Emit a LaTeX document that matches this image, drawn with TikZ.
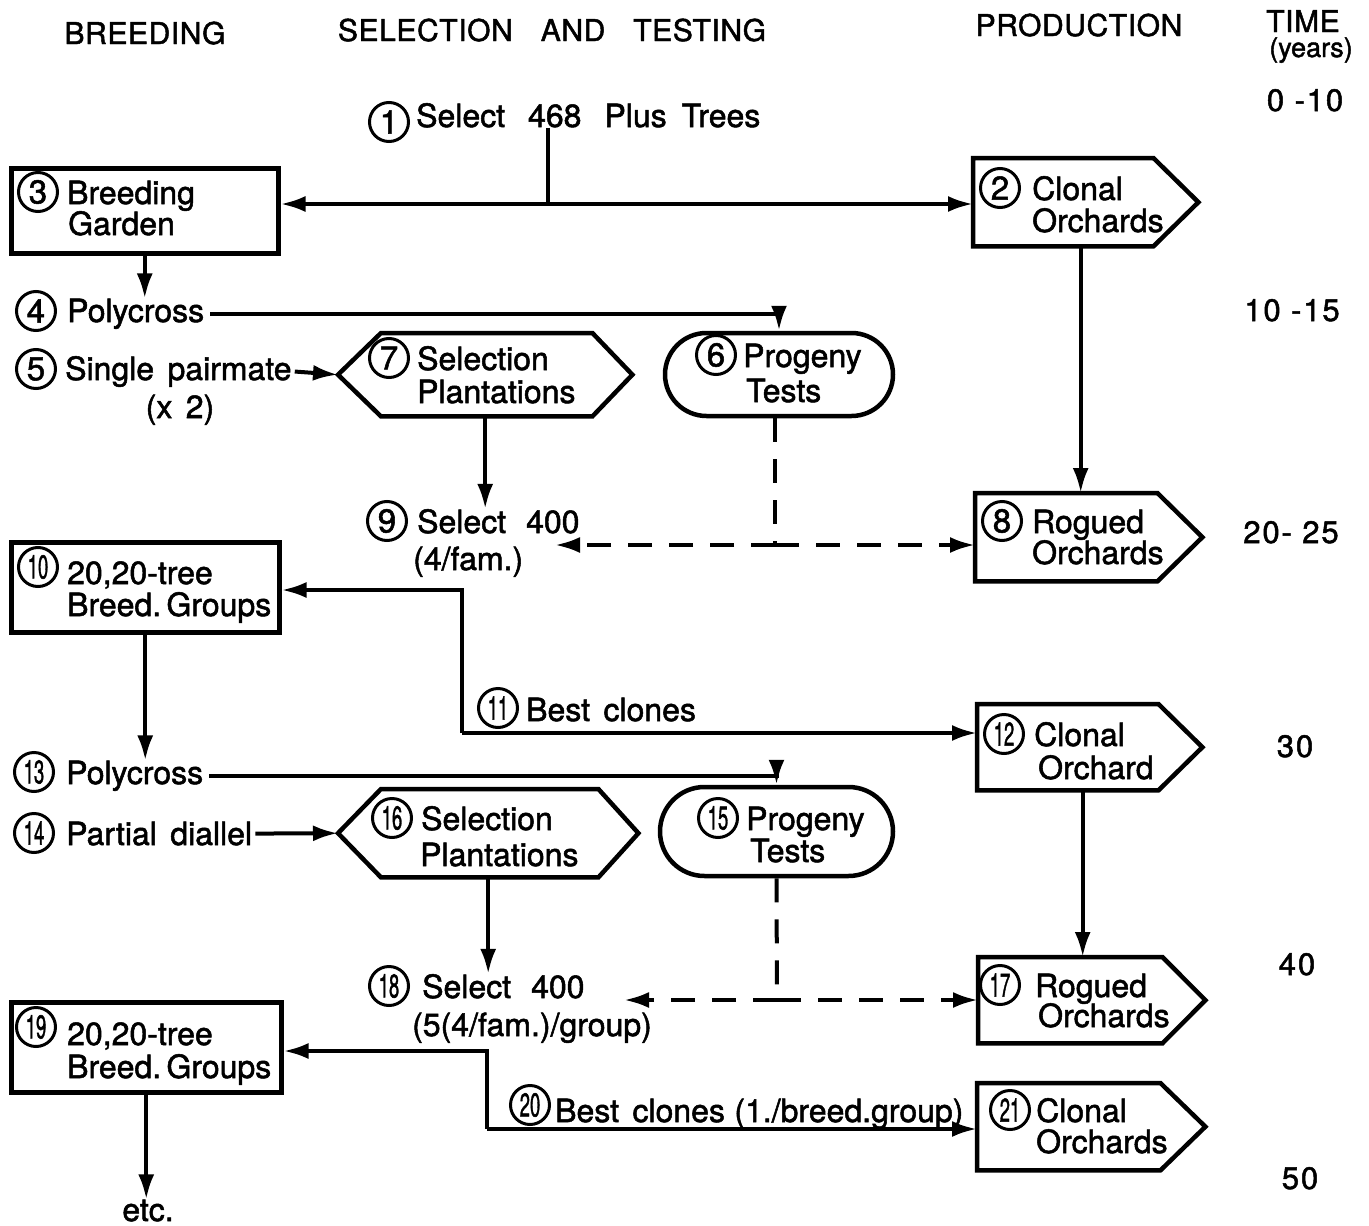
\documentclass[tikz,border=0pt]{standalone}
\usepackage{fontspec}
\usepackage{graphicx}
\setmainfont[FakeBold=1.6]{TeX Gyre Heros}
\newfontfamily\headfont[LetterSpace=2,FakeBold=1.6]{TeX Gyre Heros}
\newfontfamily\timefont[LetterSpace=6,FakeBold=1.6]{TeX Gyre Heros}
\usetikzlibrary{arrows.meta,shapes.misc,calc}

\newcommand\lbl{\fontsize{32}{36}\selectfont\spaceskip=0.42em plus 0.1em}
\newcommand\hdr{\headfont\fontsize{30}{32}\selectfont}
\newcommand\tml{\timefont\fontsize{31}{33}\selectfont}
\newcommand\two[1]{\scalebox{0.56}[1]{#1}}

\begin{document}
\begin{tikzpicture}[x=1pt,y=-1pt,
  lab/.style={anchor=base west,inner sep=0pt,font=\lbl},
  num/.style={circle,draw,line width=3pt,minimum size=39pt,inner sep=0pt,
              font=\fontsize{33}{33}\selectfont},
  hd/.style={anchor=base,inner sep=0pt,font=\hdr},
  yr/.style={anchor=base,inner sep=0pt,font=\tml},
  zone/.style={anchor=north west,inner sep=0pt,draw=none},
  boxline/.style={draw,line width=4.5pt,line join=miter},
  tip/.style={-{Latex[length=25pt,width=16pt]}},
  arr/.style={line width=4pt,tip},
  conn/.style={line width=4pt},
  dsh/.style={line width=4pt,dash pattern=on 24pt off 17pt},
]
\fill[white] (0,0) rectangle (1369,1226);
\useasboundingbox (0,0) rectangle (1369,1226);

% ---- column headings ----
\node[hd] (hBreed) at (145,44) {BREEDING};
\node[hd] (hSel) at (552,41) {SELECTION\hspace{28pt}AND\hspace{28pt}TESTING};
\node[hd] (hProd) at (1079,36) {PRODUCTION};
\node[hd] (hTime) at (1303,32) {TIME};
\node[anchor=base,inner sep=0pt,font=\fontsize{27}{29}\selectfont] (hYears) at (1311,57) {(years)};

% ---- time scale ----
\node[yr] (y1) at (1305,111) {0 -10};
\node[yr] (y2) at (1292,321) {10 -15};
\node[yr] (y3) at (1291,543) {20- 25};
\node[yr] (y4) at (1295,757) {30};
\node[yr] (y5) at (1297,975) {40};
\node[yr] (y6) at (1300,1189) {50};

% ---- rectangular boxes (breeding) ----
\node[zone,boxline,minimum width=267pt,minimum height=85pt] (b3) at (9,166) {};
\node[zone,boxline,minimum width=268pt,minimum height=90pt] (b10) at (9,540) {};
\node[zone,boxline,minimum width=270pt,minimum height=90pt] (b19) at (9,1000) {};

% ---- pointed boxes (production) ----
\node[zone,minimum width=225pt,minimum height=88pt] (n2) at (973,158) {};
\node[zone,minimum width=227pt,minimum height=88pt] (n8) at (975,493) {};
\node[zone,minimum width=225pt,minimum height=86pt] (n12) at (977,704) {};
\node[zone,minimum width=227pt,minimum height=86pt] (n17) at (978,957) {};
\node[zone,minimum width=228pt,minimum height=87pt] (n21) at (977,1083) {};
\foreach \n/\p in {n2/45,n8/45,n12/44,n17/43,n21/45}{
  \draw[boxline] (\n.north west) -- ([xshift=-\p pt]\n.north east) -- (\n.east)
     -- ([xshift=-\p pt]\n.south east) -- (\n.south west) -- cycle;
}

% ---- hexagons (selection plantations) ----
\node[zone,minimum width=294pt,minimum height=83pt] (n7) at (338,333) {};
\node[zone,minimum width=300pt,minimum height=88pt] (n16) at (338,789) {};
\foreach \n in {n7,n16}{
  \draw[boxline] (\n.west) -- ([xshift=43pt]\n.north west) -- ([xshift=-40pt]\n.north east)
     -- (\n.east) -- ([xshift=-40pt]\n.south east) -- ([xshift=43pt]\n.south west) -- cycle;
}

% ---- rounded boxes (progeny tests) ----
\node[rounded rectangle,draw,line width=4.5pt,inner sep=0pt,minimum width=228pt,minimum height=83pt] (n6) at (779,374.5) {};
\node[rounded rectangle,draw,line width=4.5pt,inner sep=0pt,minimum width=233pt,minimum height=89pt] (n15) at (776.5,831.5) {};

% ---- numbered entries ----
\node[num] (c1) at (389,122) {1};
\node[lab] (t1) at (416,127) {Select\hspace{23pt}468\hspace{23pt}Plus\hspace{15pt}Trees};

\node[num] (c2) at (1000,188) {2};
\node[lab] (t2a) at (1032,200) {Clonal};
\node[lab] (t2b) at (1032,232) {Orchards};

\node[num] (c3) at (38,192) {3};
\node[lab] (t3a) at (67,204) {Breeding};
\node[lab] (t3b) at (68,235) {Garden};

\node[num] (c4) at (36,311) {4};
\node[lab] (t4) at (67,322) {Polycross};

\node[num] (c5) at (36,369) {5};
\node[lab] (t5) at (65,380) {Single pairmate};
\node[lab,anchor=base] (t5b) at (180,418) {(x 2)};

\node[num] (c6) at (716,355) {6};
\node[lab] (t6a) at (743,367) {Progeny};
\node[lab] (t6b) at (746,402) {Tests};

\node[num] (c7) at (389,358) {7};
\node[lab] (t7a) at (417,370) {Selection};
\node[lab] (t7b) at (417,403) {Plantations};

\node[num] (c8) at (1002,521) {8};
\node[lab] (t8a) at (1032,533) {Rogued};
\node[lab] (t8b) at (1032,564) {Orchards};

\node[num] (c9) at (387,521) {9};
\node[lab] (t9a) at (417,533) {Select\hspace{20pt}400};
\node[lab] (t9b) at (413,570) {(4/fam.)};

\node[num] (c10) at (38,567) {\two{10}};
\node[lab] (t10a) at (67,584) {20,20-tree};
\node[lab] (t10b) at (67,616) {Breed.\,Groups};

\node[num] (c11) at (498,708) {\two{11}};
\node[lab] (t11) at (526,721) {Best clones};

\node[num] (c12) at (1004,734) {\two{12}};
\node[lab] (t12a) at (1034,746) {Clonal};
\node[lab] (t12b) at (1038,779) {Orchard};

\node[num] (c13) at (34,772) {\two{13}};
\node[lab] (t13) at (66,784) {Polycross};

\node[num] (c14) at (34,833) {\two{14}};
\node[lab] (t14) at (66,845) {Partial diallel};

\node[num] (c15) at (718,818) {\two{15}};
\node[lab] (t15a) at (746,830) {Progeny};
\node[lab] (t15b) at (750,862) {Tests};

\node[num] (c16) at (392,818) {\two{16}};
\node[lab] (t16a) at (421,830) {Selection};
\node[lab] (t16b) at (420,866) {Plantations};

\node[num] (c17) at (1000,985) {\two{17}};
\node[lab] (t17a) at (1035,997) {Rogued};
\node[lab] (t17b) at (1038,1027) {Orchards};

\node[num] (c18) at (389,986) {\two{18}};
\node[lab] (t18a) at (422,998) {Select\hspace{20pt}400};
\node[lab] (t18b) at (412,1036) {(5(4/fam.)/group)};

\node[num] (c19) at (36,1027) {\two{19}};
\node[lab] (t19a) at (67,1045) {20,20-tree};
\node[lab] (t19b) at (67,1078) {Breed.\,Groups};

\node[num] (c20) at (530,1105) {\two{20}};
\node[lab] (t20) at (555,1122) {Best clones\hspace{-4pt} (1./breed.group)};

\node[num] (c21) at (1010,1110) {\two{21}};
\node[lab] (t21a) at (1036,1122) {Clonal};
\node[lab] (t21b) at (1036,1153) {Orchards};

\node[lab,anchor=base] (tetc) at (148,1221) {etc.};

% ---- junction and end points ----
\coordinate (j1) at (548,204);
\coordinate (j9) at (775,545);
\coordinate (d9) at (555,545);
\coordinate (k11) at (462,590);
\coordinate (k11b) at (462,733);
\coordinate (j18) at (777,1000);
\coordinate (d18) at (624,1000);
\coordinate (k20) at (487,1051);
\coordinate (k20b) at (487,1129);

% ---- connectors: first generation ----
\draw[conn] (j1 |- t1.south) -- (j1);
\draw[arr] (j1) -- (b3.east |- j1);
\draw[arr] (j1) -- (n2.west |- j1);
\draw[arr] (b3.south) -- (b3.south |- t4.north);
\draw[arr] ([xshift=6pt]t4.east) -| (n6.north);
\draw[arr] ([xshift=3pt]t5.east) -- (n7.west);
\draw[arr] (n7.south) -- (n7.south |- t9a.north);
\draw[arr] ([xshift=-5pt]n2.south) -- ([xshift=-5pt]n2.south |- n8.north);
\draw[dsh] ([xshift=-4pt]n6.south) -- (j9);
\draw[dsh,tip] (j9) -- (d9);
\draw[dsh,tip] (j9) -- (n8.west |- j9);

% ---- connectors: second generation ----
\draw[arr] (k11b) -- (k11) -- (b10.east |- k11);
\draw[arr] (k11b) -- (n12.west |- k11b);
\draw[arr] (b10.south) -- (b10.south |- t13.north);
\draw[arr] ([xshift=6pt]t13.east) -| (n15.north);
\draw[arr] ([xshift=3pt]t14.east) -- (n16.west);
\draw[arr] (n16.south) -- (n16.south |- t18a.north);
\draw[arr] ([xshift=-7pt]n12.south) -- ([xshift=-7pt]n12.south |- n17.north);
\draw[dsh] (n15.south) -- (j18);
\draw[dsh,tip] (j18) -- (d18);
\draw[dsh,tip] (j18) -- (n17.west |- j18);

% ---- connectors: third generation ----
\draw[arr] (k20b) -- (k20) -- (b19.east |- k20);
\draw[arr] (k20b) -- (n21.west |- k20b);
\draw[arr] (b19.south) -- (b19.south |- tetc.north);
\end{tikzpicture}
\end{document}
